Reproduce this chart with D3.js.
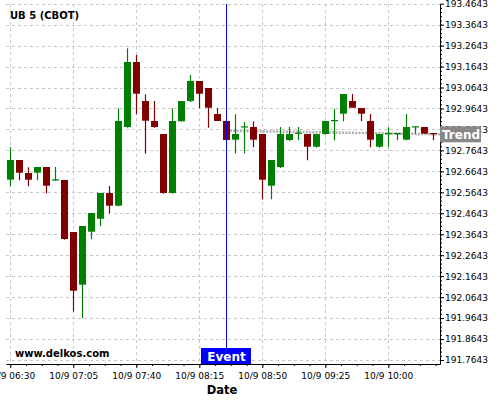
<!DOCTYPE html>
<html><head><meta charset="utf-8">
<script src="https://cdn.jsdelivr.net/npm/d3@7"></script>
<style>body{margin:0;background:#fff}svg{display:block;font-family:"DejaVu Sans",sans-serif}</style>
</head><body><svg id="c" width="500" height="400"></svg>
<script>
const title = "UB 5 (CBOT)";
const watermark = "www.delkos.com";
const xTitle = "Date";
const times = ["06:30","06:35","06:40","06:45","06:50","06:55","07:00","07:05","07:10","07:15","07:20","07:25",
  "07:30","07:35","07:40","07:45","07:50","07:55","08:00","08:05","08:10","08:15","08:20","08:25",
  "08:30","08:35","08:40","08:45","08:50","08:55","09:00","09:05","09:10","09:15","09:20","09:25",
  "09:30","09:35","09:40","09:45","09:50","09:55","10:00","10:05","10:10","10:15","10:20","10:25"];
const open = [192.6245,192.7185,192.6565,192.6579,192.6851,192.6250,192.6231,192.3750,192.1236,192.3764,192.4384,192.5611,
  192.5005,192.8759,193.1861,193.0000,192.9046,192.8425,192.5611,192.9031,193.0000,193.0954,193.0620,192.9380,
  192.9046,192.8154,192.8783,192.8759,192.8425,192.5959,192.6851,192.8139,192.8473,192.8425,192.7820,192.8425,
  192.9079,192.9394,193.0000,192.9666,192.9046,192.7820,192.8459,192.8459,192.8154,192.8779,192.8759,192.8473];
const high = [192.7791,192.7185,192.6837,192.6851,192.6851,192.6851,192.6231,192.3750,192.4036,192.4656,192.5611,192.5945,
  192.9652,193.2514,193.2195,193.0319,193.0000,192.8425,192.9652,193.0000,193.1240,193.0954,193.0620,192.9652,
  192.9046,192.9365,192.8998,192.9031,192.8425,192.7185,192.8759,192.8759,192.8759,192.8425,192.8425,192.9046,
  192.9632,193.0334,193.0334,192.9666,192.9380,192.8425,192.8745,192.8473,192.9380,192.8793,192.8759,192.8473];
const low = [192.5930,192.6216,192.5930,192.6216,192.5596,192.6197,192.3383,191.9947,191.9633,192.3402,192.4022,192.4642,
  192.4976,192.8726,192.9365,192.7486,192.8726,192.5577,192.5577,192.9031,192.9952,192.9652,192.8726,192.9046,
  192.8139,192.7505,192.7505,192.7791,192.5310,192.5310,192.6803,192.8091,192.8125,192.7171,192.7772,192.8392,
  192.8125,192.9031,192.9680,192.9031,192.7791,192.7772,192.7791,192.8125,192.8125,192.8440,192.8440,192.8125];
const close = [192.7185,192.6579,192.6245,192.6851,192.5959,192.6264,192.3416,192.0949,192.4036,192.4656,192.5611,192.5005,
  192.9046,193.1861,193.0348,192.9060,192.8759,192.5611,192.9046,193.0000,193.0954,193.0348,192.9680,192.9046,
  192.8139,192.8425,192.8793,192.8154,192.6245,192.7185,192.8425,192.8425,192.8488,192.7820,192.8425,192.9046,
  192.9093,193.0334,192.9680,192.9394,192.8154,192.8425,192.8473,192.8473,192.8759,192.8793,192.8440,192.8459];
const yTicks = [191.7643,191.8643,191.9643,192.0643,192.1643,192.2643,192.3643,192.4643,192.5643,
  192.6643,192.7643,192.8643,192.9643,193.0643,193.1643,193.2643,193.3643,193.4643];
const xTickTimes = ["06:30","07:05","07:40","08:15","08:50","09:25","10:00"];
const xTickLabels = ["10/9 06:30","10/9 07:05","10/9 07:40","10/9 08:15","10/9 08:50","10/9 09:25","10/9 10:00"];
const eventTime = "08:30";
const eventLabel = "Event";
const trendTimes = ["08:32","10:28:43"];
const trendValues = [192.8578,192.8411];
const trendLabel = "Trend";

const parseT = s => { const p = s.split(":").map(Number); return new Date(2000,9,9,p[0],p[1],p[2]||0); };
const svg = d3.select("#c");
const L = 6, R = 440, T = 4, B = 364;
const x = d3.scaleTime().domain([parseT("06:27:37"), parseT("10:28:43")]).range([L, R]);
const y = d3.scaleLinear().domain([191.7452, 193.4628]).range([B, T]);
const up = "#008000", down = "#800000";
const px = v => Math.round(v) + 0.5;

// grid
const grid = svg.append("g").attr("stroke", "#c8c8c8").attr("stroke-dasharray", "3,3").attr("stroke-width", 1);
grid.selectAll("line.h").data(yTicks).join("line").attr("class","h")
  .attr("x1", L).attr("x2", R).attr("y1", d => px(y(d))).attr("y2", d => px(y(d)));
grid.selectAll("line.v").data(xTickTimes).join("line").attr("class","v")
  .attr("x1", d => px(x(parseT(d)))).attr("x2", d => px(x(parseT(d)))).attr("y1", T).attr("y2", B);

// trend line
svg.append("line")
  .attr("x1", x(parseT(trendTimes[0]))).attr("x2", x(parseT(trendTimes[1])))
  .attr("y1", y(trendValues[0])).attr("y2", y(trendValues[1]))
  .attr("stroke", "#a0a0a0").attr("stroke-width", 2.5).attr("stroke-dasharray", "2,1.3").attr("opacity", 0.85);

// candles
const data = times.map((t, i) => ({t: parseT(t), o: open[i], h: high[i], l: low[i], c: close[i]}));
const cg = svg.append("g");
const candle = cg.selectAll("g").data(data).join("g");
candle.append("line")
  .attr("x1", d => Math.round(x(d.t)) + 0.5).attr("x2", d => Math.round(x(d.t)) + 0.5)
  .attr("y1", d => y(d.h)).attr("y2", d => y(d.l))
  .attr("stroke", d => d.c >= d.o ? up : down).attr("stroke-width", 1.2);
candle.append("rect")
  .attr("x", d => Math.round(x(d.t)) - 3).attr("width", 7)
  .attr("y", d => y(Math.max(d.o, d.c)))
  .attr("height", d => Math.max(1.2, Math.abs(y(d.o) - y(d.c))))
  .attr("fill", d => d.c >= d.o ? up : down);

// event line
const ex = Math.round(x(parseT(eventTime))) + 0.5;
svg.append("line").attr("x1", ex).attr("x2", ex).attr("y1", T).attr("y2", B)
  .attr("stroke", "#0000ff").attr("stroke-width", 1);

// right axis
const yAxis = svg.append("g").attr("transform", `translate(${R},0)`)
  .call(d3.axisRight(y).tickValues(yTicks).tickFormat(d3.format(".4f")).tickSize(4).tickSizeOuter(0).tickPadding(1));
const yMinor = d3.range(0, 87).map(k => 191.7643 + 0.02 * k - 0.02).filter(v => v > y.domain()[0] && v < y.domain()[1]);
svg.append("g").attr("transform", `translate(${R},0)`)
  .call(d3.axisRight(y).tickValues(yMinor).tickFormat("").tickSize(2).tickSizeOuter(0))
  .select(".domain").remove();
yAxis.selectAll("text").attr("font-size", 9).attr("font-family", "DejaVu Sans").attr("fill", "#000");

// bottom axis
const xAxis = svg.append("g").attr("transform", `translate(0,${B})`)
  .call(d3.axisBottom(x).tickValues(xTickTimes.map(parseT)).tickFormat((d, i) => xTickLabels[i])
    .tickSize(4).tickSizeOuter(0).tickPadding(5));
xAxis.selectAll("text").attr("font-size", 9).attr("font-family", "DejaVu Sans").attr("fill", "#000");
const xMinor = d3.range(-1, 28).map(k => new Date(parseT("06:30").getTime() + k * 8.75 * 60000))
  .filter(d => d > x.domain()[0] && d < x.domain()[1]);
svg.append("g").attr("transform", `translate(0,${B})`)
  .call(d3.axisBottom(x).tickValues(xMinor).tickFormat("").tickSize(2).tickSizeOuter(0))
  .select(".domain").remove();
svg.selectAll(".domain").attr("stroke", "#000");

// x title
svg.append("text").attr("x", 222).attr("y", 393.5).attr("text-anchor", "middle")
  .attr("font-size", 11.5).attr("font-weight", "bold").text(xTitle);

// event label
svg.append("rect").attr("x", ex - 25.5).attr("y", 348).attr("width", 50).attr("height", 16).attr("fill", "#0000ff");
svg.append("text").attr("x", ex).attr("y", 360.5).attr("text-anchor", "middle").attr("fill", "#fff")
  .attr("font-size", 12).attr("font-weight", "bold").text(eventLabel);

// trend label
const ty = y(trendValues[1]);
svg.append("rect").attr("x", R).attr("y", ty - 8).attr("width", 41).attr("height", 16).attr("fill", "#888");
svg.append("text").attr("x", R + 21).attr("y", ty + 4.5).attr("text-anchor", "middle").attr("fill", "#fff")
  .attr("font-size", 12).attr("font-weight", "bold").text(trendLabel);

// title & watermark
svg.append("text").attr("x", 10).attr("y", 19.3).attr("font-size", 10).attr("font-weight", "bold").text(title);
svg.append("text").attr("x", 15).attr("y", 356.5).attr("font-size", 10).attr("font-weight", "bold").text(watermark);
</script></body></html>
